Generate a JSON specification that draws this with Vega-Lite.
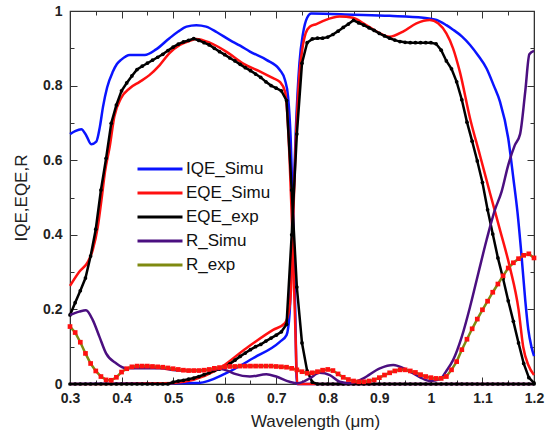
{
"$schema":"https://vega.github.io/schema/vega-lite/v6.json",
"width":464,"height":373,"autosize":"none",
"padding":{"left":70,"top":11,"right":11,"bottom":52},
"config":{"view":{"stroke":"#333","strokeWidth":1.2},"font":"Liberation Sans",
 "axis":{"grid":false,"domainColor":"#333","tickColor":"#333","labelColor":"#222","titleColor":"#222","labelFont":"Liberation Sans","titleFont":"Liberation Sans"}},
"data":{"values":[
{"s":"IQE_Simu","c":"t","x":0.300,"y":0.670},{"s":"IQE_Simu","c":"t","x":0.310,"y":0.678},{"s":"IQE_Simu","c":"t","x":0.322,"y":0.683},{"s":"IQE_Simu","c":"t","x":0.332,"y":0.665},{"s":"IQE_Simu","c":"t","x":0.341,"y":0.643},{"s":"IQE_Simu","c":"t","x":0.351,"y":0.650},{"s":"IQE_Simu","c":"t","x":0.358,"y":0.690},{"s":"IQE_Simu","c":"t","x":0.364,"y":0.743},{"s":"IQE_Simu","c":"t","x":0.372,"y":0.795},{"s":"IQE_Simu","c":"t","x":0.383,"y":0.837},{"s":"IQE_Simu","c":"t","x":0.391,"y":0.858},{"s":"IQE_Simu","c":"t","x":0.399,"y":0.869},{"s":"IQE_Simu","c":"t","x":0.416,"y":0.882},{"s":"IQE_Simu","c":"t","x":0.445,"y":0.882},{"s":"IQE_Simu","c":"t","x":0.467,"y":0.897},{"s":"IQE_Simu","c":"t","x":0.493,"y":0.927},{"s":"IQE_Simu","c":"t","x":0.510,"y":0.945},{"s":"IQE_Simu","c":"t","x":0.526,"y":0.958},{"s":"IQE_Simu","c":"t","x":0.545,"y":0.962},{"s":"IQE_Simu","c":"t","x":0.564,"y":0.958},{"s":"IQE_Simu","c":"t","x":0.585,"y":0.943},{"s":"IQE_Simu","c":"t","x":0.610,"y":0.922},{"s":"IQE_Simu","c":"t","x":0.630,"y":0.907},{"s":"IQE_Simu","c":"t","x":0.649,"y":0.891},{"s":"IQE_Simu","c":"t","x":0.681,"y":0.869},{"s":"IQE_Simu","c":"t","x":0.707,"y":0.842},{"s":"IQE_Simu","c":"t","x":0.717,"y":0.815},{"s":"IQE_Simu","c":"t","x":0.723,"y":0.770},{"s":"IQE_Simu","c":"t","x":0.728,"y":0.660},{"s":"IQE_Simu","c":"t","x":0.733,"y":0.440},{"s":"IQE_Simu","c":"t","x":0.737,"y":0.190},{"s":"IQE_Simu","c":"t","x":0.740,"y":0.000},{"s":"IQE_Simu","c":"t","x":0.760,"y":0.000},{"s":"IQE_Simu","c":"t","x":1.200,"y":0.000},
{"s":"IQE_Simu","c":"b","x":0.300,"y":0.000},{"s":"IQE_Simu","c":"b","x":0.550,"y":0.003},{"s":"IQE_Simu","c":"b","x":0.603,"y":0.029},{"s":"IQE_Simu","c":"b","x":0.655,"y":0.069},{"s":"IQE_Simu","c":"b","x":0.707,"y":0.113},{"s":"IQE_Simu","c":"b","x":0.720,"y":0.131},{"s":"IQE_Simu","c":"b","x":0.726,"y":0.190},{"s":"IQE_Simu","c":"b","x":0.729,"y":0.300},{"s":"IQE_Simu","c":"b","x":0.733,"y":0.480},{"s":"IQE_Simu","c":"b","x":0.738,"y":0.680},{"s":"IQE_Simu","c":"b","x":0.745,"y":0.860},{"s":"IQE_Simu","c":"b","x":0.752,"y":0.940},{"s":"IQE_Simu","c":"b","x":0.760,"y":0.982},{"s":"IQE_Simu","c":"b","x":0.768,"y":0.993},{"s":"IQE_Simu","c":"b","x":0.850,"y":0.990},{"s":"IQE_Simu","c":"b","x":0.920,"y":0.987},{"s":"IQE_Simu","c":"b","x":0.985,"y":0.982},{"s":"IQE_Simu","c":"b","x":1.011,"y":0.976},{"s":"IQE_Simu","c":"b","x":1.030,"y":0.962},{"s":"IQE_Simu","c":"b","x":1.043,"y":0.950},{"s":"IQE_Simu","c":"b","x":1.060,"y":0.932},{"s":"IQE_Simu","c":"b","x":1.076,"y":0.909},{"s":"IQE_Simu","c":"b","x":1.092,"y":0.880},{"s":"IQE_Simu","c":"b","x":1.108,"y":0.846},{"s":"IQE_Simu","c":"b","x":1.122,"y":0.800},{"s":"IQE_Simu","c":"b","x":1.134,"y":0.757},{"s":"IQE_Simu","c":"b","x":1.150,"y":0.659},{"s":"IQE_Simu","c":"b","x":1.160,"y":0.551},{"s":"IQE_Simu","c":"b","x":1.168,"y":0.460},{"s":"IQE_Simu","c":"b","x":1.176,"y":0.341},{"s":"IQE_Simu","c":"b","x":1.183,"y":0.225},{"s":"IQE_Simu","c":"b","x":1.189,"y":0.145},{"s":"IQE_Simu","c":"b","x":1.195,"y":0.100},{"s":"IQE_Simu","c":"b","x":1.200,"y":0.075},
{"s":"EQE_Simu","c":"t","x":0.300,"y":0.263},{"s":"EQE_Simu","c":"t","x":0.318,"y":0.301},{"s":"EQE_Simu","c":"t","x":0.335,"y":0.328},{"s":"EQE_Simu","c":"t","x":0.344,"y":0.359},{"s":"EQE_Simu","c":"t","x":0.354,"y":0.422},{"s":"EQE_Simu","c":"t","x":0.361,"y":0.493},{"s":"EQE_Simu","c":"t","x":0.368,"y":0.570},{"s":"EQE_Simu","c":"t","x":0.377,"y":0.636},{"s":"EQE_Simu","c":"t","x":0.386,"y":0.717},{"s":"EQE_Simu","c":"t","x":0.399,"y":0.766},{"s":"EQE_Simu","c":"t","x":0.416,"y":0.793},{"s":"EQE_Simu","c":"t","x":0.435,"y":0.810},{"s":"EQE_Simu","c":"t","x":0.454,"y":0.828},{"s":"EQE_Simu","c":"t","x":0.474,"y":0.855},{"s":"EQE_Simu","c":"t","x":0.493,"y":0.887},{"s":"EQE_Simu","c":"t","x":0.513,"y":0.909},{"s":"EQE_Simu","c":"t","x":0.532,"y":0.920},{"s":"EQE_Simu","c":"t","x":0.545,"y":0.925},{"s":"EQE_Simu","c":"t","x":0.571,"y":0.915},{"s":"EQE_Simu","c":"t","x":0.603,"y":0.891},{"s":"EQE_Simu","c":"t","x":0.636,"y":0.859},{"s":"EQE_Simu","c":"t","x":0.668,"y":0.838},{"s":"EQE_Simu","c":"t","x":0.694,"y":0.820},{"s":"EQE_Simu","c":"t","x":0.707,"y":0.810},{"s":"EQE_Simu","c":"t","x":0.717,"y":0.784},{"s":"EQE_Simu","c":"t","x":0.720,"y":0.752},{"s":"EQE_Simu","c":"t","x":0.726,"y":0.600},{"s":"EQE_Simu","c":"t","x":0.732,"y":0.380},{"s":"EQE_Simu","c":"t","x":0.737,"y":0.150},{"s":"EQE_Simu","c":"t","x":0.741,"y":0.000},{"s":"EQE_Simu","c":"t","x":0.760,"y":0.000},{"s":"EQE_Simu","c":"t","x":1.200,"y":0.000},
{"s":"EQE_Simu","c":"b","x":0.300,"y":0.000},{"s":"EQE_Simu","c":"b","x":0.500,"y":0.003},{"s":"EQE_Simu","c":"b","x":0.584,"y":0.037},{"s":"EQE_Simu","c":"b","x":0.642,"y":0.096},{"s":"EQE_Simu","c":"b","x":0.694,"y":0.145},{"s":"EQE_Simu","c":"b","x":0.717,"y":0.163},{"s":"EQE_Simu","c":"b","x":0.726,"y":0.207},{"s":"EQE_Simu","c":"b","x":0.730,"y":0.300},{"s":"EQE_Simu","c":"b","x":0.733,"y":0.450},{"s":"EQE_Simu","c":"b","x":0.738,"y":0.650},{"s":"EQE_Simu","c":"b","x":0.745,"y":0.830},{"s":"EQE_Simu","c":"b","x":0.752,"y":0.910},{"s":"EQE_Simu","c":"b","x":0.757,"y":0.940},{"s":"EQE_Simu","c":"b","x":0.765,"y":0.958},{"s":"EQE_Simu","c":"b","x":0.778,"y":0.965},{"s":"EQE_Simu","c":"b","x":0.794,"y":0.975},{"s":"EQE_Simu","c":"b","x":0.823,"y":0.985},{"s":"EQE_Simu","c":"b","x":0.849,"y":0.982},{"s":"EQE_Simu","c":"b","x":0.869,"y":0.967},{"s":"EQE_Simu","c":"b","x":0.895,"y":0.945},{"s":"EQE_Simu","c":"b","x":0.920,"y":0.931},{"s":"EQE_Simu","c":"b","x":0.946,"y":0.945},{"s":"EQE_Simu","c":"b","x":0.972,"y":0.967},{"s":"EQE_Simu","c":"b","x":0.998,"y":0.976},{"s":"EQE_Simu","c":"b","x":1.014,"y":0.967},{"s":"EQE_Simu","c":"b","x":1.030,"y":0.940},{"s":"EQE_Simu","c":"b","x":1.043,"y":0.900},{"s":"EQE_Simu","c":"b","x":1.056,"y":0.838},{"s":"EQE_Simu","c":"b","x":1.076,"y":0.712},{"s":"EQE_Simu","c":"b","x":1.095,"y":0.614},{"s":"EQE_Simu","c":"b","x":1.115,"y":0.510},{"s":"EQE_Simu","c":"b","x":1.134,"y":0.413},{"s":"EQE_Simu","c":"b","x":1.153,"y":0.314},{"s":"EQE_Simu","c":"b","x":1.170,"y":0.200},{"s":"EQE_Simu","c":"b","x":1.179,"y":0.100},{"s":"EQE_Simu","c":"b","x":1.189,"y":0.051},{"s":"EQE_Simu","c":"b","x":1.200,"y":0.024},
{"s":"EQE_exp","c":"t","x":0.30,"y":0.185},{"s":"EQE_exp","c":"t","x":0.31,"y":0.218},{"s":"EQE_exp","c":"t","x":0.32,"y":0.250},{"s":"EQE_exp","c":"t","x":0.33,"y":0.284},{"s":"EQE_exp","c":"t","x":0.34,"y":0.343},{"s":"EQE_exp","c":"t","x":0.35,"y":0.415},{"s":"EQE_exp","c":"t","x":0.36,"y":0.520},{"s":"EQE_exp","c":"t","x":0.37,"y":0.605},{"s":"EQE_exp","c":"t","x":0.38,"y":0.699},{"s":"EQE_exp","c":"t","x":0.39,"y":0.748},{"s":"EQE_exp","c":"t","x":0.40,"y":0.786},{"s":"EQE_exp","c":"t","x":0.41,"y":0.807},{"s":"EQE_exp","c":"t","x":0.42,"y":0.826},{"s":"EQE_exp","c":"t","x":0.43,"y":0.843},{"s":"EQE_exp","c":"t","x":0.44,"y":0.852},{"s":"EQE_exp","c":"t","x":0.45,"y":0.860},{"s":"EQE_exp","c":"t","x":0.46,"y":0.868},{"s":"EQE_exp","c":"t","x":0.47,"y":0.876},{"s":"EQE_exp","c":"t","x":0.48,"y":0.884},{"s":"EQE_exp","c":"t","x":0.49,"y":0.894},{"s":"EQE_exp","c":"t","x":0.50,"y":0.903},{"s":"EQE_exp","c":"t","x":0.51,"y":0.911},{"s":"EQE_exp","c":"t","x":0.52,"y":0.917},{"s":"EQE_exp","c":"t","x":0.53,"y":0.921},{"s":"EQE_exp","c":"t","x":0.54,"y":0.926},{"s":"EQE_exp","c":"t","x":0.55,"y":0.921},{"s":"EQE_exp","c":"t","x":0.56,"y":0.915},{"s":"EQE_exp","c":"t","x":0.57,"y":0.909},{"s":"EQE_exp","c":"t","x":0.58,"y":0.900},{"s":"EQE_exp","c":"t","x":0.59,"y":0.891},{"s":"EQE_exp","c":"t","x":0.60,"y":0.883},{"s":"EQE_exp","c":"t","x":0.61,"y":0.874},{"s":"EQE_exp","c":"t","x":0.62,"y":0.866},{"s":"EQE_exp","c":"t","x":0.63,"y":0.857},{"s":"EQE_exp","c":"t","x":0.64,"y":0.848},{"s":"EQE_exp","c":"t","x":0.65,"y":0.840},{"s":"EQE_exp","c":"t","x":0.66,"y":0.831},{"s":"EQE_exp","c":"t","x":0.67,"y":0.822},{"s":"EQE_exp","c":"t","x":0.68,"y":0.810},{"s":"EQE_exp","c":"t","x":0.69,"y":0.800},{"s":"EQE_exp","c":"t","x":0.70,"y":0.793},{"s":"EQE_exp","c":"t","x":0.71,"y":0.786},{"s":"EQE_exp","c":"t","x":0.72,"y":0.760},{"s":"EQE_exp","c":"t","x":0.73,"y":0.520},{"s":"EQE_exp","c":"t","x":0.74,"y":0.260},{"s":"EQE_exp","c":"t","x":0.75,"y":0.110},{"s":"EQE_exp","c":"t","x":0.76,"y":0.035},{"s":"EQE_exp","c":"t","x":0.77,"y":0.005},{"s":"EQE_exp","c":"t","x":0.78,"y":0},{"s":"EQE_exp","c":"t","x":0.79,"y":0},{"s":"EQE_exp","c":"t","x":0.80,"y":0},{"s":"EQE_exp","c":"t","x":0.81,"y":0},{"s":"EQE_exp","c":"t","x":0.82,"y":0},{"s":"EQE_exp","c":"t","x":0.83,"y":0},{"s":"EQE_exp","c":"t","x":0.84,"y":0},{"s":"EQE_exp","c":"t","x":0.85,"y":0},{"s":"EQE_exp","c":"t","x":0.86,"y":0},{"s":"EQE_exp","c":"t","x":0.87,"y":0},{"s":"EQE_exp","c":"t","x":0.88,"y":0},{"s":"EQE_exp","c":"t","x":0.89,"y":0},{"s":"EQE_exp","c":"t","x":0.90,"y":0},{"s":"EQE_exp","c":"t","x":0.91,"y":0},{"s":"EQE_exp","c":"t","x":0.92,"y":0},{"s":"EQE_exp","c":"t","x":0.93,"y":0},{"s":"EQE_exp","c":"t","x":0.94,"y":0},{"s":"EQE_exp","c":"t","x":0.95,"y":0},{"s":"EQE_exp","c":"t","x":0.96,"y":0},{"s":"EQE_exp","c":"t","x":0.97,"y":0},{"s":"EQE_exp","c":"t","x":0.98,"y":0},{"s":"EQE_exp","c":"t","x":0.99,"y":0},{"s":"EQE_exp","c":"t","x":1.00,"y":0},{"s":"EQE_exp","c":"t","x":1.01,"y":0},{"s":"EQE_exp","c":"t","x":1.02,"y":0},{"s":"EQE_exp","c":"t","x":1.03,"y":0},{"s":"EQE_exp","c":"t","x":1.04,"y":0},{"s":"EQE_exp","c":"t","x":1.05,"y":0},{"s":"EQE_exp","c":"t","x":1.06,"y":0},{"s":"EQE_exp","c":"t","x":1.07,"y":0},{"s":"EQE_exp","c":"t","x":1.08,"y":0},{"s":"EQE_exp","c":"t","x":1.09,"y":0},{"s":"EQE_exp","c":"t","x":1.10,"y":0},{"s":"EQE_exp","c":"t","x":1.11,"y":0},{"s":"EQE_exp","c":"t","x":1.12,"y":0},{"s":"EQE_exp","c":"t","x":1.13,"y":0},{"s":"EQE_exp","c":"t","x":1.14,"y":0},{"s":"EQE_exp","c":"t","x":1.15,"y":0},{"s":"EQE_exp","c":"t","x":1.16,"y":0},{"s":"EQE_exp","c":"t","x":1.17,"y":0},{"s":"EQE_exp","c":"t","x":1.18,"y":0},{"s":"EQE_exp","c":"t","x":1.19,"y":0},{"s":"EQE_exp","c":"t","x":1.20,"y":0},
{"s":"EQE_exp","c":"b","x":0.30,"y":0},{"s":"EQE_exp","c":"b","x":0.31,"y":0},{"s":"EQE_exp","c":"b","x":0.32,"y":0},{"s":"EQE_exp","c":"b","x":0.33,"y":0},{"s":"EQE_exp","c":"b","x":0.34,"y":0},{"s":"EQE_exp","c":"b","x":0.35,"y":0},{"s":"EQE_exp","c":"b","x":0.36,"y":0},{"s":"EQE_exp","c":"b","x":0.37,"y":0},{"s":"EQE_exp","c":"b","x":0.38,"y":0},{"s":"EQE_exp","c":"b","x":0.39,"y":0},{"s":"EQE_exp","c":"b","x":0.40,"y":0},{"s":"EQE_exp","c":"b","x":0.41,"y":0},{"s":"EQE_exp","c":"b","x":0.42,"y":0},{"s":"EQE_exp","c":"b","x":0.43,"y":0},{"s":"EQE_exp","c":"b","x":0.44,"y":0},{"s":"EQE_exp","c":"b","x":0.45,"y":0},{"s":"EQE_exp","c":"b","x":0.46,"y":0},{"s":"EQE_exp","c":"b","x":0.47,"y":0},{"s":"EQE_exp","c":"b","x":0.48,"y":0},{"s":"EQE_exp","c":"b","x":0.49,"y":0},{"s":"EQE_exp","c":"b","x":0.50,"y":0.005},{"s":"EQE_exp","c":"b","x":0.51,"y":0.008},{"s":"EQE_exp","c":"b","x":0.52,"y":0.010},{"s":"EQE_exp","c":"b","x":0.53,"y":0.013},{"s":"EQE_exp","c":"b","x":0.54,"y":0.016},{"s":"EQE_exp","c":"b","x":0.55,"y":0.020},{"s":"EQE_exp","c":"b","x":0.56,"y":0.025},{"s":"EQE_exp","c":"b","x":0.57,"y":0.030},{"s":"EQE_exp","c":"b","x":0.58,"y":0.036},{"s":"EQE_exp","c":"b","x":0.59,"y":0.040},{"s":"EQE_exp","c":"b","x":0.60,"y":0.045},{"s":"EQE_exp","c":"b","x":0.61,"y":0.054},{"s":"EQE_exp","c":"b","x":0.62,"y":0.064},{"s":"EQE_exp","c":"b","x":0.63,"y":0.074},{"s":"EQE_exp","c":"b","x":0.64,"y":0.083},{"s":"EQE_exp","c":"b","x":0.65,"y":0.092},{"s":"EQE_exp","c":"b","x":0.66,"y":0.100},{"s":"EQE_exp","c":"b","x":0.67,"y":0.106},{"s":"EQE_exp","c":"b","x":0.68,"y":0.115},{"s":"EQE_exp","c":"b","x":0.69,"y":0.123},{"s":"EQE_exp","c":"b","x":0.70,"y":0.131},{"s":"EQE_exp","c":"b","x":0.71,"y":0.140},{"s":"EQE_exp","c":"b","x":0.72,"y":0.160},{"s":"EQE_exp","c":"b","x":0.73,"y":0.400},{"s":"EQE_exp","c":"b","x":0.74,"y":0.670},{"s":"EQE_exp","c":"b","x":0.75,"y":0.860},{"s":"EQE_exp","c":"b","x":0.76,"y":0.915},{"s":"EQE_exp","c":"b","x":0.77,"y":0.925},{"s":"EQE_exp","c":"b","x":0.78,"y":0.927},{"s":"EQE_exp","c":"b","x":0.79,"y":0.927},{"s":"EQE_exp","c":"b","x":0.80,"y":0.930},{"s":"EQE_exp","c":"b","x":0.81,"y":0.937},{"s":"EQE_exp","c":"b","x":0.82,"y":0.946},{"s":"EQE_exp","c":"b","x":0.83,"y":0.956},{"s":"EQE_exp","c":"b","x":0.84,"y":0.965},{"s":"EQE_exp","c":"b","x":0.85,"y":0.975},{"s":"EQE_exp","c":"b","x":0.86,"y":0.968},{"s":"EQE_exp","c":"b","x":0.87,"y":0.962},{"s":"EQE_exp","c":"b","x":0.88,"y":0.955},{"s":"EQE_exp","c":"b","x":0.89,"y":0.948},{"s":"EQE_exp","c":"b","x":0.90,"y":0.940},{"s":"EQE_exp","c":"b","x":0.91,"y":0.933},{"s":"EQE_exp","c":"b","x":0.92,"y":0.927},{"s":"EQE_exp","c":"b","x":0.93,"y":0.922},{"s":"EQE_exp","c":"b","x":0.94,"y":0.918},{"s":"EQE_exp","c":"b","x":0.95,"y":0.916},{"s":"EQE_exp","c":"b","x":0.96,"y":0.915},{"s":"EQE_exp","c":"b","x":0.97,"y":0.915},{"s":"EQE_exp","c":"b","x":0.98,"y":0.915},{"s":"EQE_exp","c":"b","x":0.99,"y":0.915},{"s":"EQE_exp","c":"b","x":1.00,"y":0.915},{"s":"EQE_exp","c":"b","x":1.01,"y":0.912},{"s":"EQE_exp","c":"b","x":1.02,"y":0.895},{"s":"EQE_exp","c":"b","x":1.03,"y":0.866},{"s":"EQE_exp","c":"b","x":1.04,"y":0.845},{"s":"EQE_exp","c":"b","x":1.05,"y":0.810},{"s":"EQE_exp","c":"b","x":1.06,"y":0.762},{"s":"EQE_exp","c":"b","x":1.07,"y":0.702},{"s":"EQE_exp","c":"b","x":1.08,"y":0.651},{"s":"EQE_exp","c":"b","x":1.09,"y":0.598},{"s":"EQE_exp","c":"b","x":1.10,"y":0.540},{"s":"EQE_exp","c":"b","x":1.11,"y":0.467},{"s":"EQE_exp","c":"b","x":1.12,"y":0.402},{"s":"EQE_exp","c":"b","x":1.13,"y":0.338},{"s":"EQE_exp","c":"b","x":1.14,"y":0.283},{"s":"EQE_exp","c":"b","x":1.15,"y":0.223},{"s":"EQE_exp","c":"b","x":1.16,"y":0.168},{"s":"EQE_exp","c":"b","x":1.17,"y":0.110},{"s":"EQE_exp","c":"b","x":1.18,"y":0.055},{"s":"EQE_exp","c":"b","x":1.19,"y":0.017},{"s":"EQE_exp","c":"b","x":1.20,"y":0.003},
{"s":"R_Simu","c":"a","x":0.300,"y":0.185},{"s":"R_Simu","c":"a","x":0.318,"y":0.194},{"s":"R_Simu","c":"a","x":0.331,"y":0.198},{"s":"R_Simu","c":"a","x":0.344,"y":0.172},{"s":"R_Simu","c":"a","x":0.357,"y":0.127},{"s":"R_Simu","c":"a","x":0.370,"y":0.082},{"s":"R_Simu","c":"a","x":0.390,"y":0.055},{"s":"R_Simu","c":"a","x":0.409,"y":0.042},{"s":"R_Simu","c":"a","x":0.435,"y":0.042},{"s":"R_Simu","c":"a","x":0.474,"y":0.042},{"s":"R_Simu","c":"a","x":0.513,"y":0.036},{"s":"R_Simu","c":"a","x":0.551,"y":0.036},{"s":"R_Simu","c":"a","x":0.590,"y":0.040},{"s":"R_Simu","c":"a","x":0.605,"y":0.036},{"s":"R_Simu","c":"a","x":0.620,"y":0.027},{"s":"R_Simu","c":"a","x":0.649,"y":0.020},{"s":"R_Simu","c":"a","x":0.681,"y":0.026},{"s":"R_Simu","c":"a","x":0.700,"y":0.020},{"s":"R_Simu","c":"a","x":0.726,"y":0.006},{"s":"R_Simu","c":"a","x":0.742,"y":0.002},{"s":"R_Simu","c":"a","x":0.765,"y":0.015},{"s":"R_Simu","c":"a","x":0.784,"y":0.030},{"s":"R_Simu","c":"a","x":0.804,"y":0.024},{"s":"R_Simu","c":"a","x":0.823,"y":0.006},{"s":"R_Simu","c":"a","x":0.843,"y":0.002},{"s":"R_Simu","c":"a","x":0.869,"y":0.015},{"s":"R_Simu","c":"a","x":0.901,"y":0.042},{"s":"R_Simu","c":"a","x":0.927,"y":0.051},{"s":"R_Simu","c":"a","x":0.953,"y":0.038},{"s":"R_Simu","c":"a","x":0.979,"y":0.018},{"s":"R_Simu","c":"a","x":0.998,"y":0.008},{"s":"R_Simu","c":"a","x":1.018,"y":0.013},{"s":"R_Simu","c":"a","x":1.030,"y":0.035},{"s":"R_Simu","c":"a","x":1.043,"y":0.064},{"s":"R_Simu","c":"a","x":1.060,"y":0.127},{"s":"R_Simu","c":"a","x":1.076,"y":0.207},{"s":"R_Simu","c":"a","x":1.092,"y":0.297},{"s":"R_Simu","c":"a","x":1.108,"y":0.386},{"s":"R_Simu","c":"a","x":1.124,"y":0.466},{"s":"R_Simu","c":"a","x":1.137,"y":0.515},{"s":"R_Simu","c":"a","x":1.150,"y":0.587},{"s":"R_Simu","c":"a","x":1.163,"y":0.641},{"s":"R_Simu","c":"a","x":1.173,"y":0.670},{"s":"R_Simu","c":"a","x":1.183,"y":0.784},{"s":"R_Simu","c":"a","x":1.191,"y":0.884},{"s":"R_Simu","c":"a","x":1.200,"y":0.893},
{"s":"R_exp","c":"a","x":0.30,"y":0.154},{"s":"R_exp","c":"a","x":0.31,"y":0.138},{"s":"R_exp","c":"a","x":0.32,"y":0.112},{"s":"R_exp","c":"a","x":0.33,"y":0.082},{"s":"R_exp","c":"a","x":0.34,"y":0.055},{"s":"R_exp","c":"a","x":0.35,"y":0.035},{"s":"R_exp","c":"a","x":0.36,"y":0.020},{"s":"R_exp","c":"a","x":0.37,"y":0.011},{"s":"R_exp","c":"a","x":0.38,"y":0.010},{"s":"R_exp","c":"a","x":0.39,"y":0.018},{"s":"R_exp","c":"a","x":0.40,"y":0.032},{"s":"R_exp","c":"a","x":0.41,"y":0.041},{"s":"R_exp","c":"a","x":0.42,"y":0.046},{"s":"R_exp","c":"a","x":0.43,"y":0.048},{"s":"R_exp","c":"a","x":0.44,"y":0.048},{"s":"R_exp","c":"a","x":0.45,"y":0.048},{"s":"R_exp","c":"a","x":0.46,"y":0.047},{"s":"R_exp","c":"a","x":0.47,"y":0.046},{"s":"R_exp","c":"a","x":0.48,"y":0.045},{"s":"R_exp","c":"a","x":0.49,"y":0.043},{"s":"R_exp","c":"a","x":0.50,"y":0.041},{"s":"R_exp","c":"a","x":0.51,"y":0.039},{"s":"R_exp","c":"a","x":0.52,"y":0.037},{"s":"R_exp","c":"a","x":0.53,"y":0.036},{"s":"R_exp","c":"a","x":0.54,"y":0.036},{"s":"R_exp","c":"a","x":0.55,"y":0.036},{"s":"R_exp","c":"a","x":0.56,"y":0.037},{"s":"R_exp","c":"a","x":0.57,"y":0.039},{"s":"R_exp","c":"a","x":0.58,"y":0.042},{"s":"R_exp","c":"a","x":0.59,"y":0.044},{"s":"R_exp","c":"a","x":0.60,"y":0.046},{"s":"R_exp","c":"a","x":0.61,"y":0.047},{"s":"R_exp","c":"a","x":0.62,"y":0.047},{"s":"R_exp","c":"a","x":0.63,"y":0.048},{"s":"R_exp","c":"a","x":0.64,"y":0.048},{"s":"R_exp","c":"a","x":0.65,"y":0.048},{"s":"R_exp","c":"a","x":0.66,"y":0.048},{"s":"R_exp","c":"a","x":0.67,"y":0.048},{"s":"R_exp","c":"a","x":0.68,"y":0.048},{"s":"R_exp","c":"a","x":0.69,"y":0.048},{"s":"R_exp","c":"a","x":0.70,"y":0.047},{"s":"R_exp","c":"a","x":0.71,"y":0.046},{"s":"R_exp","c":"a","x":0.72,"y":0.045},{"s":"R_exp","c":"a","x":0.73,"y":0.042},{"s":"R_exp","c":"a","x":0.74,"y":0.038},{"s":"R_exp","c":"a","x":0.75,"y":0.033},{"s":"R_exp","c":"a","x":0.76,"y":0.029},{"s":"R_exp","c":"a","x":0.77,"y":0.030},{"s":"R_exp","c":"a","x":0.78,"y":0.033},{"s":"R_exp","c":"a","x":0.79,"y":0.037},{"s":"R_exp","c":"a","x":0.80,"y":0.039},{"s":"R_exp","c":"a","x":0.81,"y":0.036},{"s":"R_exp","c":"a","x":0.82,"y":0.027},{"s":"R_exp","c":"a","x":0.83,"y":0.018},{"s":"R_exp","c":"a","x":0.84,"y":0.012},{"s":"R_exp","c":"a","x":0.85,"y":0.008},{"s":"R_exp","c":"a","x":0.86,"y":0.006},{"s":"R_exp","c":"a","x":0.87,"y":0.006},{"s":"R_exp","c":"a","x":0.88,"y":0.008},{"s":"R_exp","c":"a","x":0.89,"y":0.011},{"s":"R_exp","c":"a","x":0.90,"y":0.017},{"s":"R_exp","c":"a","x":0.91,"y":0.024},{"s":"R_exp","c":"a","x":0.92,"y":0.030},{"s":"R_exp","c":"a","x":0.93,"y":0.035},{"s":"R_exp","c":"a","x":0.94,"y":0.038},{"s":"R_exp","c":"a","x":0.95,"y":0.038},{"s":"R_exp","c":"a","x":0.96,"y":0.035},{"s":"R_exp","c":"a","x":0.97,"y":0.031},{"s":"R_exp","c":"a","x":0.98,"y":0.025},{"s":"R_exp","c":"a","x":0.99,"y":0.020},{"s":"R_exp","c":"a","x":1.00,"y":0.017},{"s":"R_exp","c":"a","x":1.01,"y":0.015},{"s":"R_exp","c":"a","x":1.02,"y":0.015},{"s":"R_exp","c":"a","x":1.03,"y":0.020},{"s":"R_exp","c":"a","x":1.04,"y":0.038},{"s":"R_exp","c":"a","x":1.05,"y":0.060},{"s":"R_exp","c":"a","x":1.06,"y":0.092},{"s":"R_exp","c":"a","x":1.07,"y":0.120},{"s":"R_exp","c":"a","x":1.08,"y":0.148},{"s":"R_exp","c":"a","x":1.09,"y":0.174},{"s":"R_exp","c":"a","x":1.10,"y":0.199},{"s":"R_exp","c":"a","x":1.11,"y":0.222},{"s":"R_exp","c":"a","x":1.12,"y":0.246},{"s":"R_exp","c":"a","x":1.13,"y":0.268},{"s":"R_exp","c":"a","x":1.14,"y":0.290},{"s":"R_exp","c":"a","x":1.15,"y":0.311},{"s":"R_exp","c":"a","x":1.16,"y":0.325},{"s":"R_exp","c":"a","x":1.17,"y":0.336},{"s":"R_exp","c":"a","x":1.18,"y":0.345},{"s":"R_exp","c":"a","x":1.19,"y":0.349},{"s":"R_exp","c":"a","x":1.20,"y":0.338}
]},
"layer":[
 {"encoding":{
   "x":{"field":"x","type":"quantitative","scale":{"domain":[0.3,1.2],"nice":false,"zero":false},
     "axis":{"orient":"bottom","values":[0.3,0.35,0.4,0.45,0.5,0.55,0.6,0.65,0.7,0.75,0.8,0.85,0.9,0.95,1,1.05,1.1,1.15,1.2],
       "labelExpr":"abs(datum.value*10-round(datum.value*10))<0.001 ? format(datum.value,'~g') : ''",
       "tickSize":{"condition":{"test":"abs(datum.value*10-round(datum.value*10))<0.001","value":-7},"value":-4},
       "labelPadding":14,"labelFontSize":14,"labelFontWeight":"bold","labelFlush":false,
       "title":"Wavelength (μm)","titleFontSize":17,"titleFontWeight":"normal","titlePadding":8,"titleX":245}},
   "y":{"field":"y","type":"quantitative","scale":{"domain":[0,1],"nice":false},
     "axis":{"orient":"left","values":[0,0.1,0.2,0.3,0.4,0.5,0.6,0.7,0.8,0.9,1],
       "labelExpr":"abs(datum.value*5-round(datum.value*5))<0.001 ? format(datum.value,'~g') : ''",
       "tickSize":{"condition":{"test":"abs(datum.value*5-round(datum.value*5))<0.001","value":-7},"value":-4},
       "labelPadding":15,"labelFontSize":14,"labelFontWeight":"bold","labelFlush":false,
       "title":"IQE,EQE,R","titleFontSize":17,"titleFontWeight":"normal","titlePadding":12}}
  },
  "layer":[
   {"transform":[{"filter":"datum.s==='IQE_Simu'"}],"mark":{"type":"line","strokeWidth":2.5,"interpolate":"monotone"},
    "encoding":{"detail":{"field":"c"},"color":{"field":"s","type":"nominal","scale":{"domain":["IQE_Simu","EQE_Simu","EQE_exp","R_Simu","R_exp"],"range":["#0a14ff","#ff1010","#000000","#4b0f80","#7f8a10"]},
      "legend":{"orient":"none","legendX":66,"legendY":149,"title":null,"symbolType":"M-1,0H5","symbolSize":225,"symbolStrokeWidth":3,"labelFontSize":17,"labelFont":"Liberation Sans","rowPadding":7,"labelOffset":32,"labelColor":"#111"}}}},
   {"transform":[{"filter":"datum.s==='EQE_Simu'"}],"mark":{"type":"line","strokeWidth":2.5,"interpolate":"monotone"},
    "encoding":{"detail":{"field":"c"},"color":{"field":"s","type":"nominal"}}},
   {"transform":[{"filter":"datum.s==='EQE_exp'"}],"mark":{"type":"line","strokeWidth":2.5},
    "encoding":{"detail":{"field":"c"},"color":{"field":"s","type":"nominal"}}},
   {"transform":[{"filter":"datum.s==='EQE_exp'"}],"mark":{"type":"point","filled":true,"size":14,"color":"#000","opacity":1}},
   {"transform":[{"filter":"datum.s==='R_Simu'"}],"mark":{"type":"line","strokeWidth":2.5,"interpolate":"monotone"},
    "encoding":{"detail":{"field":"c"},"color":{"field":"s","type":"nominal"}}},
   {"transform":[{"filter":"datum.s==='R_exp'"}],"mark":{"type":"line","strokeWidth":2.5},
    "encoding":{"detail":{"field":"c"},"color":{"field":"s","type":"nominal"}}},
   {"transform":[{"filter":"datum.s==='R_exp'"}],"mark":{"type":"square","filled":true,"size":22,"color":"#ff1010","opacity":1}}
  ]},
 {"transform":[{"filter":"datum.s==='R_exp'"}],"mark":{"type":"point","opacity":0},
  "encoding":{
   "x":{"field":"x","type":"quantitative","scale":{"domain":[0.3,1.2],"nice":false,"zero":false},
     "axis":{"orient":"top","values":[0.3,0.35,0.4,0.45,0.5,0.55,0.6,0.65,0.7,0.75,0.8,0.85,0.9,0.95,1,1.05,1.1,1.15,1.2],"labels":false,"title":null,
       "tickSize":{"condition":{"test":"abs(datum.value*10-round(datum.value*10))<0.001","value":-7},"value":-4}}},
   "y":{"field":"y","type":"quantitative","scale":{"domain":[0,1],"nice":false},
     "axis":{"orient":"right","values":[0,0.1,0.2,0.3,0.4,0.5,0.6,0.7,0.8,0.9,1],"labels":false,"title":null,
       "tickSize":{"condition":{"test":"abs(datum.value*5-round(datum.value*5))<0.001","value":-7},"value":-4}}}
  }}
],
"resolve":{"axis":{"x":"independent","y":"independent"}}
}
